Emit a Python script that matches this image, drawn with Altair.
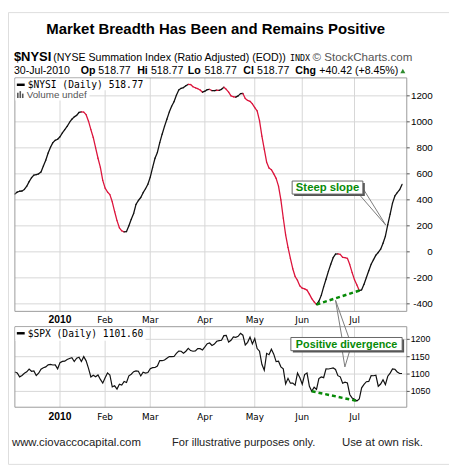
import altair as alt
import pandas as pd

# ---------------- data ----------------
# trading-day index 0 = 4-Dec-2009 ... 163 = 30-Jul-2010
NYSI = [445, 460, 466, 468, 480, 505, 540, 570, 590, 594,
        600, 615, 660, 705, 760, 805, 840, 858, 866, 885,
        915, 940, 965, 995, 1020, 1038, 1050, 1072, 1076, 1075,
        1055, 1005, 940, 880, 800, 720, 650, 550, 490, 460,
        440, 385, 310, 240, 185, 162, 154, 156, 200, 250,
        295, 365, 395, 418, 455, 485, 520, 575, 650, 720,
        765, 840, 905, 965, 1020, 1075, 1120, 1155, 1205, 1245,
        1258, 1264, 1278, 1288, 1287, 1270, 1262, 1255, 1245, 1228,
        1236, 1248, 1249, 1240, 1240, 1243, 1242, 1250, 1266, 1250,
        1228, 1200, 1193, 1190, 1200, 1217, 1218, 1180, 1165, 1158,
        1138, 1110, 1085, 1010, 890, 790, 690, 645, 632, 600,
        565, 505, 400, 260, 130, 35, -50, -130, -190, -220,
        -262, -280, -285, -295, -325, -360, -385, -405, -380, -335,
        -270, -211, -150, -95, -45, -17, -15, -20, -43, -45,
        -50, -98, -160, -215, -255, -298, -292, -250, -198, -145,
        -95, -60, -25, -5, 20, 66, 120, 210, 290, 375,
        430, 455, 478, 518.77]

SPX = [1105.98, 1103.25, 1091.94, 1095.95, 1102.35, 1106.41, 1114.11, 1107.93, 1109.18, 1096.08,
       1102.47, 1114.05, 1118.02, 1120.59, 1126.48, 1127.78, 1126.20, 1126.42, 1115.10,
       1132.99, 1136.52, 1137.14, 1141.69, 1144.98, 1146.98, 1136.22, 1145.68, 1148.46, 1136.03,
       1150.23, 1138.04, 1116.48, 1091.76, 1096.78, 1092.17, 1097.50, 1084.53, 1073.87,
       1089.19, 1103.32, 1097.28, 1063.11, 1066.19, 1056.74, 1070.52, 1068.13, 1078.47, 1075.51,
       1094.87, 1099.51, 1106.75, 1109.17, 1108.01, 1094.60, 1105.24, 1102.94, 1104.49,
       1115.71, 1118.31, 1118.79, 1122.97, 1138.70, 1138.50, 1140.45, 1145.61, 1150.24, 1149.99,
       1150.51, 1159.46, 1166.21, 1165.83, 1159.90, 1165.81, 1174.17, 1167.72, 1165.73, 1166.59,
       1173.22, 1173.27, 1169.43,
       1178.10, 1187.44, 1189.44, 1182.45, 1186.44, 1194.37, 1196.48, 1197.30, 1210.65, 1211.67,
       1192.13, 1197.52, 1207.17, 1205.94, 1208.67, 1217.28, 1212.05, 1183.71, 1191.36, 1206.78,
       1186.69,
       1202.26, 1173.60, 1165.87, 1128.15, 1110.88, 1159.73, 1155.79, 1171.67, 1157.44, 1135.68,
       1136.94, 1120.80, 1115.05, 1071.59, 1087.69, 1073.65, 1074.03, 1067.95, 1103.06, 1089.41,
       1070.71, 1098.38, 1102.83, 1064.88, 1050.47, 1062.00, 1055.69, 1086.84, 1091.60, 1089.63,
       1115.23, 1114.61, 1116.04, 1117.51, 1113.20, 1095.31, 1092.04, 1073.69, 1076.76, 1074.57,
       1041.24, 1030.71,
       1027.37, 1022.58, 1028.06, 1060.27, 1070.25, 1077.96, 1078.75, 1095.34, 1095.17, 1096.48,
       1064.88, 1071.25, 1083.48, 1069.59, 1093.67, 1102.66, 1115.01, 1113.84, 1106.13, 1101.53,
       1101.60]

MONTH_IDX = [19, 38, 57, 80, 101, 121, 143]
MONTH_LAB = ["2010", "Feb", "Mar", "Apr", "May", "Jun", "Jul"]
NYSI_TICKS = [1200, 1000, 800, 600, 400, 200, 0, -200, -400]
SPX_TICKS = [1200, 1150, 1100, 1050]
NYSI_DIV_I = [127, 146]
NYSI_DIV_V = [-405, -292]
SPX_DIV_I = [125, 144]
SPX_DIV_V = [1050.47, 1022.58]

# ---------------- styling ----------------
FONT = "Liberation Sans, Arial, sans-serif"
MONO = "DejaVu Sans Mono, monospace"
GRID = "#d6d6d6"
FRAME = "#9a9a9a"
GREEN = "#078a07"
RED = "#dc143c"

xs = alt.Scale(domain=[0, 165], range=[7, 406], nice=False, zero=False)
ys1 = alt.Scale(domain=[-458, 1338], range=[304.7, 67], nice=False, zero=False)
ys2 = alt.Scale(domain=[1004.4, 1236.5], range=[402.3, 320.3], nice=False, zero=False)

one = pd.DataFrame({"k": [0]})

def txt(s, x, y, size=11, weight="normal", color="black", font=FONT, align="left"):
    return alt.Chart(one).mark_text(text=s, fontSize=size, fontWeight=weight, color=color,
                                    font=font, align=align, baseline="alphabetic").encode(
        x=alt.value(x), y=alt.value(y))

def box(x1, x2, y1, y2, fill="white", stroke=None, sw=1, op=1):
    kw = dict(fill=fill, fillOpacity=op)
    if stroke:
        kw.update(stroke=stroke, strokeWidth=sw)
    return alt.Chart(one).mark_rect(**kw).encode(
        x=alt.value(x1), x2=alt.value(x2), y=alt.value(y1), y2=alt.value(y2))

def seg(x1, y1, x2, y2, color="#888", w=1):
    return alt.Chart(one).mark_rule(color=color, strokeWidth=w).encode(
        x=alt.value(x1), x2=alt.value(x2), y=alt.value(y1), y2=alt.value(y2))

layers = []

# gridlines
months = pd.DataFrame({"m": MONTH_IDX, "lab": MONTH_LAB})
for (ya, yb) in [(67, 304.7), (320.3, 402.3)]:
    layers.append(alt.Chart(months).mark_rule(color=GRID, strokeWidth=1).encode(
        x=alt.X("m:Q", scale=xs, axis=None), y=alt.value(ya), y2=alt.value(yb)))
t1 = pd.DataFrame({"t": NYSI_TICKS, "lab": [str(t) for t in NYSI_TICKS]})
t2 = pd.DataFrame({"t": SPX_TICKS, "lab": [str(t) for t in SPX_TICKS]})
layers.append(alt.Chart(t1).mark_rule(color=GRID, strokeWidth=1).encode(
    y=alt.Y("t:Q", scale=ys1, axis=None), x=alt.value(7), x2=alt.value(406)))
layers.append(alt.Chart(t2).mark_rule(color=GRID, strokeWidth=1).encode(
    y=alt.Y("t:Q", scale=ys2, axis=None), x=alt.value(7), x2=alt.value(406)))

# NYSI line, coloured by direction
nseg = pd.DataFrame({
    "i": list(range(len(NYSI) - 1)), "v": NYSI[:-1],
    "i2": list(range(1, len(NYSI))), "v2": NYSI[1:],
})
nseg["dir"] = ["down" if b < a else "up" for a, b in zip(NYSI[:-1], NYSI[1:])]
layers.append(alt.Chart(nseg).mark_rule(strokeWidth=1.3, strokeCap="round").encode(
    x=alt.X("i:Q", scale=xs, axis=None), x2="i2:Q",
    y=alt.Y("v:Q", scale=ys1, axis=None), y2="v2:Q",
    color=alt.Color("dir:N", scale=alt.Scale(domain=["up", "down"], range=["#111111", RED]), legend=None)))

# SPX line
sdf = pd.DataFrame({"i": list(range(len(SPX))), "v": SPX})
layers.append(alt.Chart(sdf).mark_line(color="#111111", strokeWidth=1.2).encode(
    x=alt.X("i:Q", scale=xs, axis=None), y=alt.Y("v:Q", scale=ys2, axis=None)))

# frames
layers.append(box(7, 406, 67, 304.7, fill="white", stroke=FRAME, op=0))
layers.append(box(7, 406, 320.3, 402.3, fill="white", stroke=FRAME, op=0))

# right-side ticks and labels
layers.append(alt.Chart(t1).mark_rule(color="#555", strokeWidth=1).encode(
    y=alt.Y("t:Q", scale=ys1, axis=None), x=alt.value(406), x2=alt.value(409)))
layers.append(alt.Chart(t2).mark_rule(color="#555", strokeWidth=1).encode(
    y=alt.Y("t:Q", scale=ys2, axis=None), x=alt.value(406), x2=alt.value(409)))
layers.append(alt.Chart(t1).mark_text(font=FONT, fontSize=10, align="right", baseline="middle", color="black").encode(
    y=alt.Y("t:Q", scale=ys1, axis=None), x=alt.value(432.5), text="lab:N"))
layers.append(alt.Chart(t2).mark_text(font=FONT, fontSize=9, align="left", baseline="middle", color="black").encode(
    y=alt.Y("t:Q", scale=ys2, axis=None), x=alt.value(410), text="lab:N"))

# month labels
yr = months[months["lab"] == "2010"]
mo = months[months["lab"] != "2010"]
for yb in [317, 415]:
    layers.append(alt.Chart(yr).mark_text(font=FONT, fontSize=10.5, fontWeight="bold", align="center", baseline="alphabetic").encode(
        x=alt.X("m:Q", scale=xs, axis=None), y=alt.value(yb), text="lab:N"))
    layers.append(alt.Chart(mo).mark_text(font="DejaVu Sans, sans-serif", fontSize=9, align="center", baseline="alphabetic").encode(
        x=alt.X("m:Q", scale=xs, axis=None), y=alt.value(yb), text="lab:N"))

# in-panel legends
layers.append(box(7.5, 140, 67.5, 79.5))
layers.append(box(7.5, 83, 79.5, 90))
layers.append(seg(9, 74, 17, 74, color="black", w=2.5))
layers.append(txt("$NYSI (Daily) 518.77", 20, 77.5, size=9.8, font=MONO))
for bx, top in [(10, 82), (12.5, 80.5), (15, 83)]:
    layers.append(seg(bx, top, bx, 87.5, color="#555", w=1.6))
layers.append(txt("Volume undef", 19, 87.5, size=10, color="#555"))

layers.append(box(7.5, 140, 320.8, 334.5))
layers.append(seg(9, 327, 17, 327, color="black", w=2.5))
layers.append(txt("$SPX (Daily) 1101.60", 20, 331, size=9.8, font=MONO))

# divergence lines
d1 = pd.DataFrame({"i": NYSI_DIV_I, "v": NYSI_DIV_V})
d2 = pd.DataFrame({"i": SPX_DIV_I, "v": SPX_DIV_V})
layers.append(alt.Chart(d1).mark_line(color=GREEN, strokeWidth=2.5, strokeDash=[4, 3]).encode(
    x=alt.X("i:Q", scale=xs, axis=None), y=alt.Y("v:Q", scale=ys1, axis=None)))
layers.append(alt.Chart(d2).mark_line(color=GREEN, strokeWidth=2.5, strokeDash=[4, 3]).encode(
    x=alt.X("i:Q", scale=xs, axis=None), y=alt.Y("v:Q", scale=ys2, axis=None)))

# callout pointers
PTR = "#7a7a7a"
layers += [seg(357, 185, 384.7, 217, PTR), seg(362, 180.5, 384.7, 217, PTR),
           seg(333.5, 293.5, 340, 331.5, PTR), seg(333.5, 293.5, 347, 331.5, PTR),
           seg(340.3, 344.5, 343, 361.3, PTR), seg(348, 344.5, 343, 361.3, PTR)]

# callout boxes
layers.append(box(291.3, 363.3, 174, 187.3, fill="#555"))
layers.append(box(289.3, 361.3, 172, 185.3, fill="white", stroke="#666"))
layers.append(txt("Steep slope", 325.3, 182.6, size=11.5, weight="bold", color=GREEN, align="center"))
layers.append(box(290, 403.3, 333.3, 346.7, fill="#555"))
layers.append(box(288, 401.3, 331.3, 344.7, fill="white", stroke="#666"))
layers.append(txt("Positive divergence", 344.7, 342, size=11, weight="bold", color=GREEN, align="center"))

# header
layers.append(txt("Market Breadth Has Been and Remains Positive", 211.5, 22.7, size=15.2, weight="bold", align="center"))
layers.append(txt("$NYSI", 6, 49.8, size=13.2, weight="bold"))
layers.append(txt("(NYSE Summation Index (Ratio Adjusted) (EOD))", 46, 49.8, size=10.8))
layers.append(txt("INDX", 287, 49.8, size=8.5, font=MONO))
layers.append(txt("\u00a9 StockCharts.com", 310, 49.8, size=11.8, color="#555"))
row2 = [("30-Jul-2010", 6, "normal"), ("Op", 74, "bold"), ("518.77", 92, "normal"),
        ("Hi", 131.5, "bold"), ("518.77", 145.5, "normal"), ("Lo", 183, "bold"), ("518.77", 200, "normal"),
        ("Cl", 239.5, "bold"), ("518.77", 253.5, "normal"), ("Chg", 292.5, "bold"),
        ("+40.42 (+8.45%)", 317, "normal")]
for s, x, w in row2:
    layers.append(txt(s, x, 63.5, size=10.8, weight=w))
layers.append(alt.Chart(one).mark_point(shape="triangle-up", filled=True, color="#2e8b2e", size=26, opacity=1).encode(
    x=alt.value(402), y=alt.value(60)))

# footer
layers.append(txt("www.ciovaccocapital.com", 4, 441.5, size=11.6, color="#222"))
layers.append(txt("For illustrative purposes only.", 167, 441.5, size=11.3, color="#222"))
layers.append(txt("Use at own risk.", 340, 441.5, size=11.6, color="#222"))

chart = alt.layer(*layers).resolve_scale(y="independent").properties(
    width=449, height=460, padding=0,
    autosize=alt.AutoSizeParams(type="none"),
).configure_view(stroke=None).configure(background="white")

chart.save("out.html", embed_options={"renderer": "svg", "actions": False})
